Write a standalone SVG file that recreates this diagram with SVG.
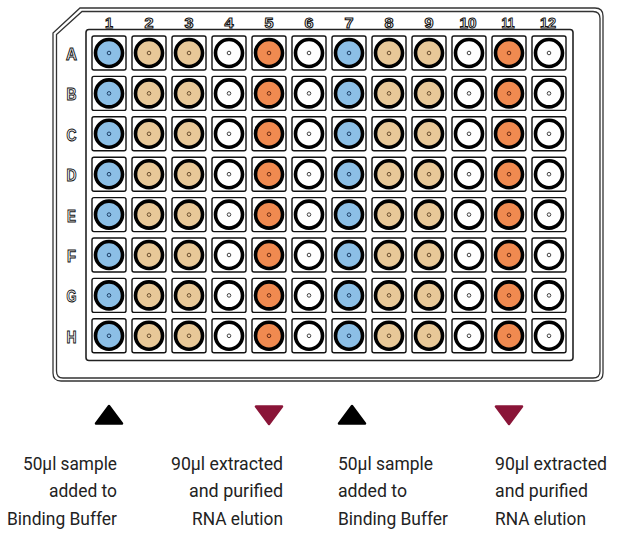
<svg xmlns="http://www.w3.org/2000/svg" width="619" height="536" viewBox="0 0 619 536">
<style>
.plate{fill:none;stroke:#333;stroke-width:1.3}
.sq{fill:#fff;stroke:#111;stroke-width:1.4}
.w{stroke:#000;stroke-width:3.6}
.d{fill:none;stroke-width:1}
.lbl{font-family:"Liberation Sans",Arial,sans-serif;font-weight:bold;fill:#fff;stroke:#111;stroke-width:1;text-anchor:middle}
.cap{font-family:Roboto,"Liberation Sans",sans-serif;font-size:19px;fill:#222}
.b{fill:#8CBFE6}.t{fill:#E8C898}.o{fill:#F08A50}.n{fill:#fff}
.db{stroke:#1d3f66}.dt{stroke:#6b5030}.do{stroke:#6b2a10}.dn{stroke:#444}
</style>
<defs>
<g id="wb"><rect class="sq" x="-17" y="-17" width="34" height="34" rx="2"/><circle class="w b" r="13.5"/><circle class="d db" r="1.8"/></g>
<g id="wt"><rect class="sq" x="-17" y="-17" width="34" height="34" rx="2"/><circle class="w t" r="13.5"/><circle class="d dt" r="1.8"/></g>
<g id="wo"><rect class="sq" x="-17" y="-17" width="34" height="34" rx="2"/><circle class="w o" r="13.5"/><circle class="d do" r="1.8"/></g>
<g id="wn"><rect class="sq" x="-17" y="-17" width="34" height="34" rx="2"/><circle class="w n" r="13.5"/><circle class="d dn" r="1.8"/></g>
<g id="col1"><use href="#wb" y="0"/><use href="#wb" y="40.4"/><use href="#wb" y="80.8"/><use href="#wb" y="121.2"/><use href="#wb" y="161.6"/><use href="#wb" y="202"/><use href="#wb" y="242.4"/><use href="#wb" y="282.8"/></g>
<g id="colt"><use href="#wt" y="0"/><use href="#wt" y="40.4"/><use href="#wt" y="80.8"/><use href="#wt" y="121.2"/><use href="#wt" y="161.6"/><use href="#wt" y="202"/><use href="#wt" y="242.4"/><use href="#wt" y="282.8"/></g>
<g id="colo"><use href="#wo" y="0"/><use href="#wo" y="40.4"/><use href="#wo" y="80.8"/><use href="#wo" y="121.2"/><use href="#wo" y="161.6"/><use href="#wo" y="202"/><use href="#wo" y="242.4"/><use href="#wo" y="282.8"/></g>
<g id="coln"><use href="#wn" y="0"/><use href="#wn" y="40.4"/><use href="#wn" y="80.8"/><use href="#wn" y="121.2"/><use href="#wn" y="161.6"/><use href="#wn" y="202"/><use href="#wn" y="242.4"/><use href="#wn" y="282.8"/></g>
</defs>
<rect width="619" height="536" fill="#fff"/>
<g id="plate">
<path class="plate" d="M80,8 H595 Q603,8 603,16 V373 Q603,381 595,381 H61 Q53,381 53,373 V33 Z"/>
<path class="plate" d="M82,11.5 H593 Q600,11.5 600,18.5 V371 Q600,378 593,378 H63 Q56.5,378 56.5,371 V34.5 Z"/>
<rect x="86" y="29.5" width="487" height="331" rx="3" fill="none" stroke="#222" stroke-width="1.6"/>
</g>
<g id="col-labels" class="lbl" font-size="15">
<text x="109" y="28" textLength="8" lengthAdjust="spacingAndGlyphs">1</text><text x="149" y="28" textLength="9" lengthAdjust="spacingAndGlyphs">2</text><text x="189" y="28" textLength="9" lengthAdjust="spacingAndGlyphs">3</text><text x="229" y="28" textLength="9" lengthAdjust="spacingAndGlyphs">4</text>
<text x="269" y="28" textLength="9" lengthAdjust="spacingAndGlyphs">5</text><text x="309" y="28" textLength="9" lengthAdjust="spacingAndGlyphs">6</text><text x="349" y="28" textLength="9" lengthAdjust="spacingAndGlyphs">7</text><text x="389" y="28" textLength="9" lengthAdjust="spacingAndGlyphs">8</text>
<text x="429" y="28" textLength="9" lengthAdjust="spacingAndGlyphs">9</text><text x="468" y="28" textLength="17" lengthAdjust="spacingAndGlyphs">10</text><text x="508" y="28" textLength="13" lengthAdjust="spacingAndGlyphs">11</text><text x="548" y="28" textLength="16" lengthAdjust="spacingAndGlyphs">12</text>
</g>
<g id="row-labels" class="lbl" font-size="17">
<text x="71.5" y="60" textLength="11" lengthAdjust="spacingAndGlyphs">A</text><text x="71.5" y="100.4" textLength="10" lengthAdjust="spacingAndGlyphs">B</text><text x="71.5" y="140.8" textLength="10" lengthAdjust="spacingAndGlyphs">C</text><text x="71.5" y="181.2" textLength="10" lengthAdjust="spacingAndGlyphs">D</text>
<text x="71.5" y="221.6" textLength="9" lengthAdjust="spacingAndGlyphs">E</text><text x="71.5" y="262" textLength="9" lengthAdjust="spacingAndGlyphs">F</text><text x="71.5" y="302.4" textLength="10" lengthAdjust="spacingAndGlyphs">G</text><text x="71.5" y="342.8" textLength="10" lengthAdjust="spacingAndGlyphs">H</text>
</g>
<g id="wells">
<use href="#col1" x="109" y="53"/>
<use href="#colt" x="149" y="53"/>
<use href="#colt" x="189" y="53"/>
<use href="#coln" x="229" y="53"/>
<use href="#colo" x="269" y="53"/>
<use href="#coln" x="309" y="53"/>
<use href="#col1" x="349" y="53"/>
<use href="#colt" x="389" y="53"/>
<use href="#colt" x="429" y="53"/>
<use href="#coln" x="469" y="53"/>
<use href="#colo" x="509" y="53"/>
<use href="#coln" x="549" y="53"/>
</g>
<g id="markers" stroke-linejoin="round" stroke-width="2.5">
<polygon points="109,406 122,423.5 96,423.5" fill="#000" stroke="#000"/>
<polygon points="256,406.5 282,406.5 269,424" fill="#8A1538" stroke="#8A1538"/>
<polygon points="352,406 365,423.5 339,423.5" fill="#000" stroke="#000"/>
<polygon points="496,406.5 522,406.5 509,424" fill="#8A1538" stroke="#8A1538"/>
</g>
<g id="caption1" class="cap" text-anchor="end">
<text x="117" y="470" textLength="94" lengthAdjust="spacingAndGlyphs">50µl sample</text>
<text x="117" y="497" textLength="68" lengthAdjust="spacingAndGlyphs">added to</text>
<text x="117" y="525" textLength="110" lengthAdjust="spacingAndGlyphs">Binding Buffer</text>
</g>
<g id="caption2" class="cap" text-anchor="end">
<text x="283" y="470" textLength="112" lengthAdjust="spacingAndGlyphs">90µl extracted</text>
<text x="283" y="497" textLength="94" lengthAdjust="spacingAndGlyphs">and purified</text>
<text x="283" y="525" textLength="91" lengthAdjust="spacingAndGlyphs">RNA elution</text>
</g>
<g id="caption3" class="cap">
<text x="338" y="470" textLength="95" lengthAdjust="spacingAndGlyphs">50µl sample</text>
<text x="338" y="497" textLength="69" lengthAdjust="spacingAndGlyphs">added to</text>
<text x="338" y="525" textLength="110" lengthAdjust="spacingAndGlyphs">Binding Buffer</text>
</g>
<g id="caption4" class="cap">
<text x="495" y="470" textLength="112" lengthAdjust="spacingAndGlyphs">90µl extracted</text>
<text x="495" y="497" textLength="93" lengthAdjust="spacingAndGlyphs">and purified</text>
<text x="495" y="525" textLength="91" lengthAdjust="spacingAndGlyphs">RNA elution</text>
</g>
</svg>
